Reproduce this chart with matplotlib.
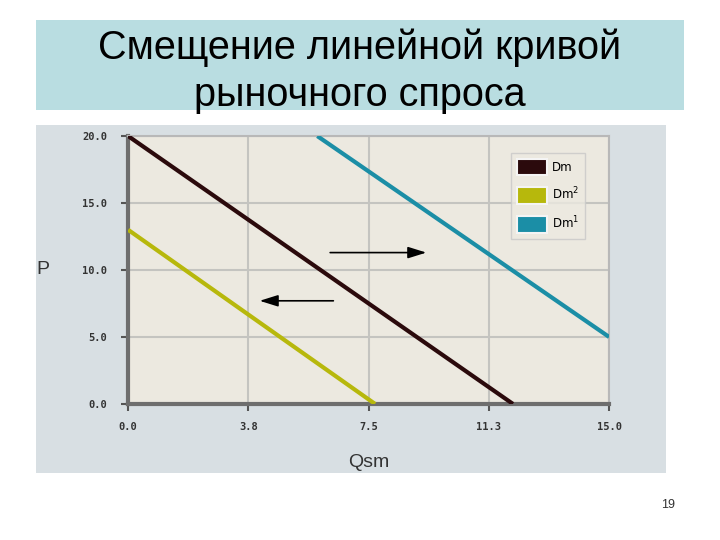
import matplotlib
matplotlib.use('Agg')
import matplotlib.pyplot as plt
from matplotlib.patches import Rectangle, Patch

# demand curves: (Q, P) end points
dm_q = [0.0, 12.0]
dm_p = [20.0, 0.0]
dm2_q = [0.0, 7.7]
dm2_p = [13.0, 0.0]
dm1_q = [5.9, 15.0]
dm1_p = [20.0, 5.0]

x_ticks = [0.0, 3.75, 7.5, 11.25, 15.0]
x_labels = ['0.0', '3.8', '7.5', '11.3', '15.0']
y_ticks = [0.0, 5.0, 10.0, 15.0, 20.0]
y_labels = ['0.0', '5.0', '10.0', '15.0', '20.0']

series_names = ['Dm', 'Dm$^2$', 'Dm$^1$']
series_colors = ['#2b0a0c', '#b7b80c', '#1b8ea6']

# shift arrows: (start Q, end Q, P)
arrow_right = (6.3, 9.3, 11.3)
arrow_left = (6.4, 4.1, 7.7)

plt.rcParams['font.family'] = ['Liberation Sans', 'DejaVu Sans']

fig = plt.figure(figsize=(7.2, 5.4), dpi=100)
fig.patch.set_facecolor('white')

# title box
fig.patches.append(Rectangle((0.05, 0.796), 0.90, 0.167, transform=fig.transFigure,
                             facecolor='#b9dde1', edgecolor='none', zorder=0))
fig.text(0.5, 0.912, 'Смещение линейной кривой', ha='center', va='center',
         fontsize=28.5, color='black')
fig.text(0.5, 0.825, 'рыночного спроса', ha='center', va='center',
         fontsize=28.5, color='black')

# chart panel background
fig.patches.append(Rectangle((0.05, 0.124), 0.875, 0.645, transform=fig.transFigure,
                             facecolor='#d8dfe3', edgecolor='none', zorder=0))

ax = fig.add_axes([0.178, 0.252, 0.668, 0.496])
ax.set_zorder(2)
ax.set_facecolor('#ece9e0')

for q, p, c in zip((dm_q, dm2_q, dm1_q), (dm_p, dm2_p, dm1_p), series_colors):
    ax.plot(q, p, color=c, lw=3, solid_capstyle='butt', zorder=3)

for x0, x1, y in (arrow_right, arrow_left):
    ax.annotate('', xy=(x1, y), xytext=(x0, y),
                arrowprops=dict(arrowstyle='-|>,head_length=0.8,head_width=0.25',
                                color='black', lw=1.2,
                                mutation_scale=14, shrinkA=0, shrinkB=0),
                zorder=4)

ax.set_xlim(0, 15)
ax.set_ylim(0, 20)
ax.set_xticks(x_ticks)
ax.set_xticklabels(x_labels)
ax.set_yticks(y_ticks)
ax.set_yticklabels(y_labels)
ax.grid(True, color='#c4c4c0', lw=1.5, zorder=0)
ax.set_axisbelow(True)
ax.tick_params(labelsize=7.5, colors='#555555', labelcolor='#333333', length=5, width=1.5, pad=10)
ax.tick_params(axis='x', pad=8)
for lab in ax.get_xticklabels() + ax.get_yticklabels():
    lab.set_fontweight('bold')
    lab.set_family('DejaVu Sans Mono')

for s in ('left', 'bottom'):
    ax.spines[s].set_color('#6e6e6e')
    ax.spines[s].set_linewidth(3)
for s in ('top', 'right'):
    ax.spines[s].set_color('#b8b8b8')
    ax.spines[s].set_linewidth(1.5)

ax.set_xlabel('Qsm', fontsize=14, color='#333333', labelpad=16)
fig.text(0.06, 0.5, 'P', fontsize=14, color='#333333', ha='center', va='center', zorder=3)

handles = [Patch(facecolor=c, edgecolor='#f4f4f4', lw=1.5) for c in series_colors]
leg = ax.legend(handles, series_names, loc='upper right', bbox_to_anchor=(0.962, 0.96),
                frameon=True, fancybox=False, handlelength=2.6,
                handleheight=1.8, labelspacing=0.9, borderpad=0.5, handletextpad=0.4,
                prop={'family': 'DejaVu Sans', 'size': 8.5})
leg.get_frame().set_edgecolor('#c8c8c8')
leg.get_frame().set_facecolor('#ece9e0')

fig.text(0.928, 0.065, '19', fontsize=9, color='#333333', ha='center', va='center')

fig.savefig('out.png', dpi=100)
